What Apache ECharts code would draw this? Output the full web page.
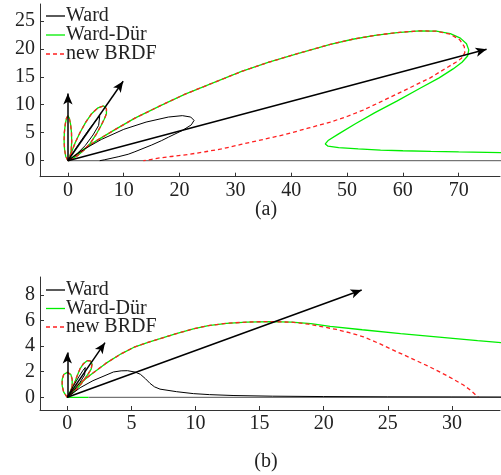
<!DOCTYPE html>
<html>
<head>
<meta charset="utf-8">
<script src="https://cdn.jsdelivr.net/npm/echarts@6/dist/echarts.min.js"></script>
<style>html,body{margin:0;padding:0;background:#fff}#c{width:501px;height:475px}</style>
</head>
<body>
<div id="c"></div>
<script>
// ---------- Panel (a) data ----------
const aXTicks = [0, 10, 20, 30, 40, 50, 60, 70];
const aYTicks = [0, 5, 10, 15, 20, 25];
const aArrowTips = [[0, 12.0], [9.9, 14.2], [75.0, 19.9]];
const aSurface = [[0, 0], [78, 0]];
const aDurVert = [[0,0],[-0.4,0.8],[-0.6,2.0],[-0.68,3.5],[-0.64,5.0],[-0.48,6.5],[-0.25,7.6],[0,8.0],[0.25,7.6],[0.48,6.5],[0.64,5.0],[0.68,3.5],[0.6,2.0],[0.4,0.8],[0,0]];
const aDurMid = [[0,0],[0.6,1.4],[1.3,3.2],[2.15,5.0],[3.2,6.9],[4.25,8.4],[5.4,9.45],[6.4,9.8],[6.9,9.3],[6.9,8.4],[6.5,7.4],[5.9,6.2],[5.0,4.6],[4.0,3.1],[2.9,1.9],[1.7,0.9],[0.7,0.3],[0,0]];
const aDurBig = [[0,0],[2,1.5],[5,3.5],[8.5,5.6],[12,7.6],[16.5,9.8],[21,11.9],[25,13.5],[31,15.9],[36,17.6],[41,19.1],[47,20.8],[51,21.7],[55,22.4],[59,22.9],[63,23.2],[66,23.15],[68.5,22.7],[70.3,21.9],[71.4,20.9],[71.8,19.8],[71.6,18.7],[70.6,17.6],[69,16.4],[66.5,14.8],[63,12.9],[59,10.7],[55,8.6],[51.5,6.6],[48.5,4.8],[46.6,3.6],[46.1,3.0],[46.6,2.6],[48.5,2.35],[52,2.1],[56,1.9],[60,1.78],[65,1.66],[70,1.57],[75,1.5],[78,1.45]];
const aNewVert = [[0,0],[-0.4,0.8],[-0.6,2.0],[-0.68,3.5],[-0.64,5.0],[-0.48,6.5],[-0.25,7.6],[0,8.0],[0.25,7.6],[0.48,6.5],[0.64,5.0],[0.68,3.5],[0.6,2.0],[0.4,0.8],[0,0]];
const aNewMid = [[0,0],[0.6,1.4],[1.3,3.2],[2.15,5.0],[3.2,6.9],[4.25,8.4],[5.4,9.45],[6.4,9.8],[6.9,9.3],[6.9,8.4],[6.5,7.4],[5.9,6.2],[5.0,4.6],[4.0,3.1],[2.9,1.9],[1.7,0.9],[0.7,0.3],[0,0]];
const aNewBig = [[0,0],[2,1.5],[5,3.5],[8.5,5.6],[12,7.6],[16.5,9.8],[21,11.9],[25,13.5],[31,15.9],[36,17.6],[41,19.1],[47,20.8],[51,21.7],[55,22.4],[59,22.9],[63,23.2],[66,23.15],[68.5,22.6],[70.2,21.6],[71.0,20.4],[71.1,19.3],[70.5,18.3],[69.5,17.6],[67.5,16.4],[64.9,14.8],[62,13.4],[58.9,11.9],[56,10.5],[52.9,9.05],[50,7.9],[47,6.9],[43,5.8],[39,4.7],[35,3.8],[31,2.9],[27.5,2.1],[24.6,1.6],[21.5,1.1],[18.5,0.75],[16.5,0.5],[15,0.25],[13.5,0]];
const aWardMid = [[0,0],[1,1.6],[2.5,3.8],[4,5.9],[5.2,7.4],[5.7,7.95],[5.9,7.6],[5.5,6.3],[4.5,4.6],[3.1,2.7],[1.6,1.2],[0,0]];
const aWardBig = [[0,0],[3,2.1],[6,3.8],[10,5.6],[14,6.9],[18,7.8],[20.5,8.05],[22,7.8],[22.6,7.2],[22.1,6.4],[20.5,5.4],[18,4.2],[16.8,3.6],[15,2.8],[12,1.6],[10.8,1.15],[9,0.7],[6.5,0.15],[5.7,0]];

// ---------- Panel (b) data ----------
const bXTicks = [0, 5, 10, 15, 20, 25, 30];
const bYTicks = [0, 2, 4, 6, 8];
const bArrowTips = [[0, 3.5], [2.94, 4.27], [22.96, 8.38]];
const bSurface = [[1.65, 0], [34, 0]];
const bDurBase = [[0, 0], [1.65, 0]];
const bDurVert = [[0,0],[-0.28,0.4],[-0.4,0.9],[-0.4,1.4],[-0.28,1.78],[0,1.95],[0.28,1.78],[0.38,1.4],[0.38,0.9],[0.26,0.4],[0,0]];
const bDurMid = [[0,0],[0.3,0.6],[0.55,1.1],[0.78,1.7],[1.0,2.25],[1.25,2.62],[1.55,2.86],[1.8,2.84],[1.93,2.6],[1.86,2.2],[1.64,1.85],[1.12,1.1],[0.6,0.5],[0,0]];
const bDurBig = [[0,0],[0.8,0.95],[1.8,1.75],[3,2.65],[4.2,3.4],[5.28,3.95],[6.3,4.3],[7.23,4.58],[8.5,4.97],[9.83,5.35],[11,5.6],[12.43,5.78],[14,5.88],[15.81,5.92],[17.5,5.87],[19,5.75],[20.5,5.55],[23,5.28],[26,4.98],[29,4.7],[32,4.43],[34,4.26]];
const bNewVert = [[0,0],[-0.28,0.4],[-0.4,0.9],[-0.4,1.4],[-0.28,1.78],[0,1.95],[0.28,1.78],[0.38,1.4],[0.38,0.9],[0.26,0.4],[0,0]];
const bNewMid = [[0,0],[0.3,0.6],[0.55,1.1],[0.78,1.7],[1.0,2.25],[1.25,2.62],[1.55,2.86],[1.8,2.84],[1.93,2.6],[1.86,2.2],[1.64,1.85],[1.12,1.1],[0.6,0.5],[0,0]];
const bNewBig = [[0,0],[0.8,0.95],[1.8,1.75],[3,2.65],[4.2,3.4],[5.28,3.95],[6.3,4.3],[7.23,4.58],[8.5,4.97],[9.83,5.35],[11,5.6],[12.43,5.78],[14,5.88],[15.81,5.92],[17.5,5.87],[18.8,5.72],[19.7,5.55],[21,5.3],[22,5.05],[23.1,4.73],[24.4,4.17],[25.7,3.56],[27,2.97],[28.3,2.36],[29.6,1.7],[30.9,0.96],[31.5,0.52],[32.06,0]];
const bWardMid = [[0,0],[0.45,0.85],[0.9,1.6],[1.22,2.1],[1.4,2.33],[1.5,2.18],[1.35,1.75],[0.95,1.1],[0.45,0.45],[0,0]];
const bWardBig = [[0,0],[1,0.75],[2,1.3],[2.94,1.7],[3.6,1.98],[4.2,2.07],[4.7,2.08],[5.3,1.97],[5.7,1.8],[6.1,1.45],[6.45,1.09],[6.8,0.82],[7.23,0.64],[8.53,0.44],[9.83,0.29],[11.1,0.21],[13,0.14],[16,0.09],[20,0.06],[25,0.04],[30,0.03],[34,0.02]];

const legendNames = ['Ward', 'Ward-Dür', 'new BRDF'];
const panelLabels = ['(a)', '(b)'];

// ---------- styling ----------
const FONT = 'Liberation Serif';
const FS = 20;
const TXT = '#222';
const GREEN = '#00ee00', RED = '#ff2020', BLACK = '#000';
const legendColors = [BLACK, GREEN, RED];

function xAxis(gi, min, max, ticks) {
  return {
    type: 'value', gridIndex: gi, min: min, max: max,
    axisLine: { onZero: false, lineStyle: { color: '#333', width: 1 } },
    axisTick: { inside: true, length: 4, customValues: ticks, lineStyle: { color: '#333' } },
    axisLabel: { customValues: ticks, fontFamily: FONT, fontSize: FS, color: TXT, margin: 4 },
    splitLine: { show: false }
  };
}
function yAxis(gi, min, max, ticks) {
  return {
    type: 'value', gridIndex: gi, min: min, max: max,
    axisLine: { onZero: false, lineStyle: { color: '#333', width: 1 } },
    axisTick: { inside: true, length: 4, customValues: ticks, lineStyle: { color: '#333' } },
    axisLabel: { customValues: ticks, fontFamily: FONT, fontSize: FS, color: TXT, margin: 5 },
    splitLine: { show: false }
  };
}
function ln(name, data, gi, color, width, dashed, z) {
  return {
    type: 'line', name: name, data: data, xAxisIndex: gi, yAxisIndex: gi,
    symbol: 'none', showSymbol: false, smooth: false, clip: true, z: z || 2,
    lineStyle: { color: color, width: width, type: dashed ? [4, 3] : 'solid' },
    itemStyle: { color: color }
  };
}
function surface(data, gi) {
  return {
    type: 'line', data: data, xAxisIndex: gi, yAxisIndex: gi, symbol: 'none',
    lineStyle: { color: '#555', width: 1 }, z: 1, silent: true
  };
}
function arrows(tips, gi) {
  return {
    type: 'line', data: [[0, 0]], xAxisIndex: gi, yAxisIndex: gi, symbol: 'none',
    lineStyle: { opacity: 0 }, z: 5,
    markLine: {
      silent: true, animation: false, symbol: ['none', 'arrow'], symbolSize: [7, 11],
      label: { show: false },
      lineStyle: { color: BLACK, width: 1.5, type: 'solid' },
      emphasis: { disabled: true },
      data: tips.map(t => [{ coord: [0, 0] }, { coord: t }])
    }
  };
}
function legendGraphic(top, gap) {
  const els = [];
  legendNames.forEach((n, i) => {
    const cy = top + i * gap;
    els.push({ type: 'line', shape: { x1: 46, y1: cy, x2: 65, y2: cy },
      style: { stroke: legendColors[i], lineWidth: 1.3, lineDash: i === 2 ? [4, 3] : null }, z: 10 });
    els.push({ type: 'text', x: 66, y: cy, z: 10,
      style: { text: n, fontFamily: FONT, fontSize: FS, fill: TXT, verticalAlign: 'middle', align: 'left' } });
  });
  return els;
}

const chart = echarts.init(document.getElementById('c'), null, { renderer: 'canvas' });
chart.setOption({
  animation: false,
  backgroundColor: '#fff',
  textStyle: { fontFamily: FONT },
  grid: [
    { left: 40, top: 4, width: 460, height: 172.7 },
    { left: 40, top: 277, width: 460, height: 133 }
  ],
  xAxis: [xAxis(0, -5, 77.4, aXTicks), xAxis(1, -2.13, 33.75, bXTicks)],
  yAxis: [yAxis(0, -2.86, 28, aYTicks), yAxis(1, -0.99, 9.4, bYTicks)],
  graphic: [
    ...legendGraphic(16, 19),
    ...legendGraphic(290, 18.5),
    { type: 'text', x: 266, y: 210, style: { text: panelLabels[0], fontFamily: FONT, fontSize: FS, fill: TXT, align: 'center', verticalAlign: 'middle' } },
    { type: 'text', x: 266, y: 462, style: { text: panelLabels[1], fontFamily: FONT, fontSize: FS, fill: TXT, align: 'center', verticalAlign: 'middle' } }
  ],
  series: [
    surface(aSurface, 0),
    ln('Ward', aWardBig, 0, BLACK, 1, false, 4),
    ln('Ward-Dür', aDurVert, 0, GREEN, 1.3, false, 2),
    ln('Ward-Dür', aDurMid, 0, GREEN, 1.3, false, 2),
    ln('Ward-Dür', aDurBig, 0, GREEN, 1.3, false, 2),
    ln('new BRDF', aNewVert, 0, RED, 1.3, true, 3),
    ln('new BRDF', aNewMid, 0, RED, 1.3, true, 3),
    ln('new BRDF', aNewBig, 0, RED, 1.3, true, 3),
    ln('Ward', aWardMid, 0, BLACK, 1, false, 4),
    arrows(aArrowTips, 0),

    surface(bSurface, 1),
    ln('Ward', bWardBig, 1, BLACK, 1, false, 4),
    ln('Ward-Dür', bDurBase, 1, GREEN, 1.3, false, 2),
    ln('Ward-Dür', bDurVert, 1, GREEN, 1.3, false, 2),
    ln('Ward-Dür', bDurMid, 1, GREEN, 1.3, false, 2),
    ln('Ward-Dür', bDurBig, 1, GREEN, 1.3, false, 2),
    ln('new BRDF', bNewVert, 1, RED, 1.3, true, 3),
    ln('new BRDF', bNewMid, 1, RED, 1.3, true, 3),
    ln('new BRDF', bNewBig, 1, RED, 1.3, true, 3),
    ln('Ward', bWardMid, 1, BLACK, 1, false, 4),
    arrows(bArrowTips, 1)
  ]
});
</script>
</body>
</html>
